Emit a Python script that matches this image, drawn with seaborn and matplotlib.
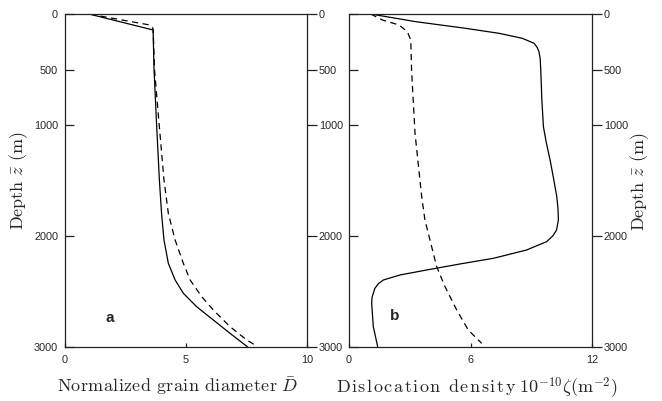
import matplotlib
matplotlib.use("Agg")
import matplotlib.pyplot as plt
import pandas as pd
import seaborn as sns

# Panel a: normalized grain diameter against depth
depth_a_solid = [0, 144, 505, 1018, 1495, 1796, 2036, 2246, 2396, 2516, 2637, 2757, 2877, 3000]
grain_solid = [0.99, 3.64, 3.68, 3.79, 3.90, 3.99, 4.09, 4.27, 4.55, 4.89, 5.44, 6.13, 6.82, 7.55]

depth_a_dashed = [0, 20, 99, 130, 505, 1018, 1495, 1796, 2036, 2246, 2396, 2547, 2667, 2817,
                  2937, 2991]
grain_dashed = [1.03, 1.5, 3.5, 3.64, 3.70, 3.90, 4.09, 4.27, 4.55, 4.89, 5.17, 5.65, 6.13, 6.82,
                7.51, 7.92]

# Panel b: dislocation density against depth
depth_b_solid = [0, 69, 129, 174, 219, 264, 300, 339, 400, 505, 760, 1015, 1165, 1315, 1480,
                 1645, 1750, 1856, 1946, 2000, 2051, 2126, 2201, 2252, 2306, 2351, 2396, 2430,
                 2471, 2550, 2606, 2817, 3000]
density_solid = [1.07, 3.29, 5.76, 7.41, 8.56, 9.14, 9.29, 9.38, 9.44, 9.47, 9.52, 9.6, 9.75,
                 9.93, 10.1, 10.26, 10.32, 10.34, 10.25, 10.06, 9.76, 8.77, 7.13, 5.48, 3.84,
                 2.52, 1.7, 1.45, 1.28, 1.14, 1.12, 1.2, 1.42]

depth_b_dashed = [0, 54, 99, 159, 234, 505, 1075, 1646, 1856, 2276, 2456, 2667, 2847, 2967]
density_dashed = [1.07, 1.65, 2.47, 2.88, 3.05, 3.09, 3.26, 3.59, 3.75, 4.33, 4.74, 5.32, 5.89, 6.55]

depth_ticks = [0, 500, 1000, 2000, 3000]
xticks_a = [0, 5, 10]
xticks_b = [0, 6, 12]

xlabel_a_words = "Normalized grain diameter"
xlabel_b_words = "Dislocation density"
ylabel = r"Depth $\bar{z}$ (m)"

sns.set_style("ticks")
plt.rcParams["font.family"] = ["Liberation Sans", "DejaVu Sans"]
plt.rcParams["mathtext.fontset"] = "cm"
plt.rcParams["lines.scale_dashes"] = False

SPINE = "#222222"
fig = plt.figure(figsize=(6.62, 4.01), dpi=100)
ax_a = fig.add_axes([65 / 662, 1 - 347 / 401, 242 / 662, 333 / 401])
ax_b = fig.add_axes([349 / 662, 1 - 347 / 401, 243 / 662, 333 / 401])

dash = (0, (4.5, 3.2))
lab_font = dict(family="cmr10", size=13)
TICK_FS = 7.8


def draw(ax, xs, ys, ls):
    df = pd.DataFrame({"x": xs, "depth": ys})
    sns.lineplot(data=df, x="x", y="depth", sort=False, estimator=None, ax=ax,
                 color="black", lw=0.9, linestyle=ls)


def spaced(words, gap):
    """Roman text in mathtext with a little extra room between letters."""
    return (r"\hspace{%g}" % gap).join(
        r"\ " if ch == " " else r"\mathrm{%s}" % ch for ch in words)


draw(ax_a, grain_solid, depth_a_solid, "-")
draw(ax_a, grain_dashed, depth_a_dashed, dash)
draw(ax_b, density_solid, depth_b_solid, "-")
draw(ax_b, density_dashed, depth_b_dashed, dash)

for ax, xt in ((ax_a, xticks_a), (ax_b, xticks_b)):
    ax.set_xlim(xt[0], xt[-1])
    ax.set_ylim(3000, 0)
    ax.set_xticks(xt)
    ax.set_yticks(depth_ticks)
    for s in ax.spines.values():
        s.set_visible(True)
        s.set_color(SPINE)
        s.set_linewidth(0.9)
    ax.tick_params(axis="x", direction="in", length=3, width=0.9, color=SPINE,
                   pad=6, labelsize=TICK_FS, top=False)
    ax.tick_params(axis="y", direction="in", length=6.8, width=0.9, color=SPINE,
                   pad=5, labelsize=TICK_FS, right=False)
    ax.set_xlabel("")
    ax.set_ylabel("")

    # outward ticks and labels on the right-hand side
    tw = ax.twinx()
    tw.set_ylim(3000, 0)
    tw.set_yticks(depth_ticks)
    for s in tw.spines.values():
        s.set_visible(False)
    tw.tick_params(axis="y", direction="out", length=7, width=0.9, color=SPINE,
                   pad=1.5, labelsize=TICK_FS)
    tw.set_ylabel("")

ax_b.tick_params(axis="y", labelleft=False)

xlabel_a = "$" + spaced(xlabel_a_words, 0.025) + r"\ \bar{D}$"
xlabel_b = "$" + spaced(xlabel_b_words, 0.1) + r"\ 10^{-10}\zeta(\mathrm{m}^{-2})$"

ax_a.set_xlabel(xlabel_a, fontsize=13, labelpad=6)
ax_a.xaxis.set_label_coords(0.463, -0.085, transform=ax_a.transAxes)
ax_a.xaxis.label.set_va("top")
ax_b.set_xlabel(xlabel_b, fontsize=13, labelpad=6)
ax_b.xaxis.set_label_coords(0.527, -0.085, transform=ax_b.transAxes)
ax_b.xaxis.label.set_va("top")
ax_a.set_ylabel(ylabel, fontdict=lab_font, labelpad=3)
fig.text(640 / 662, 1 - 182 / 401, ylabel, rotation=90, ha="center", va="center",
         fontdict=lab_font)

ax_a.text(0.186, 0.087, "a", transform=ax_a.transAxes, ha="center", va="center",
          fontsize=11, fontweight="bold")
ax_b.text(0.189, 0.093, "b", transform=ax_b.transAxes, ha="center", va="center",
          fontsize=11, fontweight="bold")

fig.savefig("out.png", dpi=100)
